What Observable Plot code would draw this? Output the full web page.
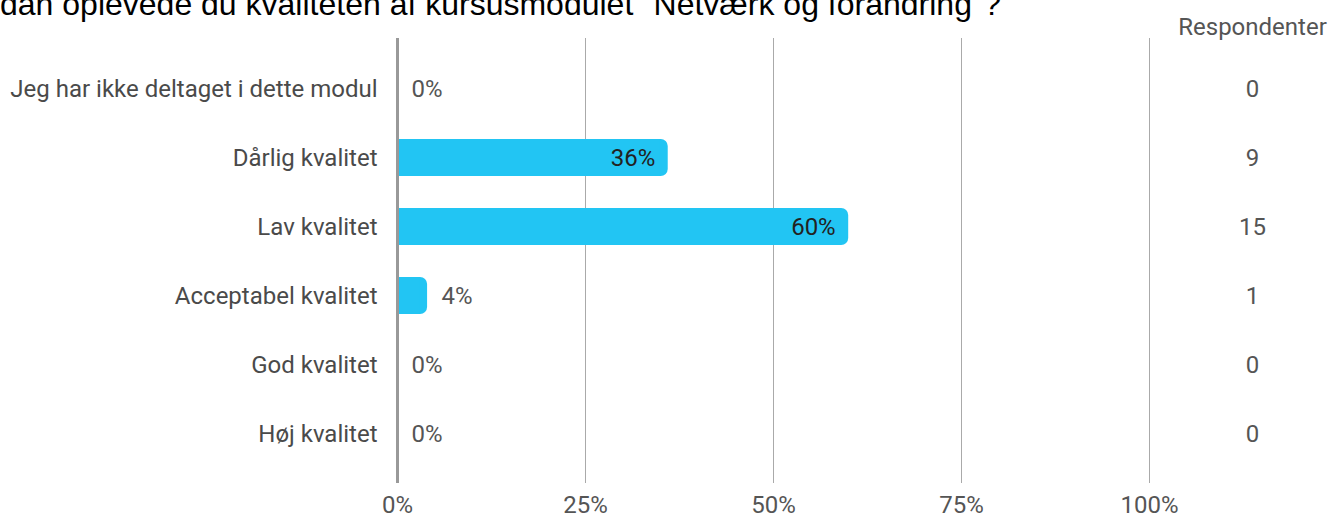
<!DOCTYPE html>
<html>
<head>
<meta charset="utf-8">
<script src="https://cdn.jsdelivr.net/npm/d3@7"></script>
<script src="https://cdn.jsdelivr.net/npm/@observablehq/plot@0.6"></script>
<style>
  html, body { margin: 0; padding: 0; background: #fff; overflow: hidden; }
  #wrap { position: relative; width: 1343px; height: 519px; }
  #title { position: absolute; left: 0; top: -13px; font-family: "Liberation Sans", Arial, sans-serif; font-size: 32px; color: #000; white-space: nowrap; line-height: 34px; }
  #chart { position: absolute; left: 0; top: 0; }
</style>
</head>
<body>
<div id="wrap">
  <div id="chart"></div>
  <div id="title">dan oplevede du kvaliteten af kursusmodulet "Netværk og forandring"?</div>
</div>
<script>
const categories = ["Jeg har ikke deltaget i dette modul", "Dårlig kvalitet", "Lav kvalitet", "Acceptabel kvalitet", "God kvalitet", "Høj kvalitet"];
const percents = [0, 36, 60, 4, 0, 0];
const respondents = [0, 9, 15, 1, 0, 0];
const xTicks = [0, 25, 50, 75, 100];
const columnHeader = "Respondenter";

const data = categories.map((c, i) => ({cat: c, pct: percents[i], n: respondents[i]}));
const inside = d => d.pct >= 20;

const plot = Plot.plot({
  width: 1343,
  height: 519,
  marginLeft: 397,
  marginRight: 194,
  marginTop: 38,
  marginBottom: 36,
  style: {fontFamily: "Roboto, sans-serif", fontSize: "24px", background: "#fff"},
  x: {domain: [0, 100], axis: null},
  y: {type: "band", domain: categories, range: [53.5, 467.5], paddingInner: 0.464, paddingOuter: 0.232, axis: null},
  marks: [
    Plot.ruleX(xTicks.filter(t => t > 0), {stroke: "#aaa", strokeWidth: 1}),
    Plot.barX(data.filter(d => d.pct > 0), {x1: 0, x2: "pct", y: "cat", fill: "#22c5f3", rx: 7}),
    Plot.barX(data.filter(d => d.pct > 0), {x1: 0, x2: "pct", y: "cat", fill: "#22c5f3", insetRight: 8}),
    Plot.ruleX([0], {stroke: "#999", strokeWidth: 3}),
    Plot.text(categories, {x: 0, y: d => d, text: d => d, textAnchor: "end", dx: -20, fill: "#4a4a4a", fontSize: 24}),
    Plot.text(data.filter(inside), {x: "pct", y: "cat", text: d => d.pct + "%", textAnchor: "end", dx: -13, fill: "#222", fontSize: 24}),
    Plot.text(data.filter(d => !inside(d)), {x: "pct", y: "cat", text: d => d.pct + "%", textAnchor: "start", dx: 14, fill: "#555", fontSize: 24}),
    Plot.text(data, {x: 100, y: "cat", text: d => String(d.n), textAnchor: "middle", dx: 103, fill: "#555", fontSize: 24}),
    Plot.text([columnHeader], {x: 100, frameAnchor: "top", lineAnchor: "middle", text: d => d, textAnchor: "middle", dx: 103, dy: -11, fill: "#555", fontSize: 24}),
    Plot.text(xTicks, {x: d => d, frameAnchor: "bottom", lineAnchor: "middle", text: d => d + "%", textAnchor: "middle", dy: 22, fill: "#555", fontSize: 24})
  ]
});
document.getElementById("chart").appendChild(plot);
</script>
</body>
</html>
